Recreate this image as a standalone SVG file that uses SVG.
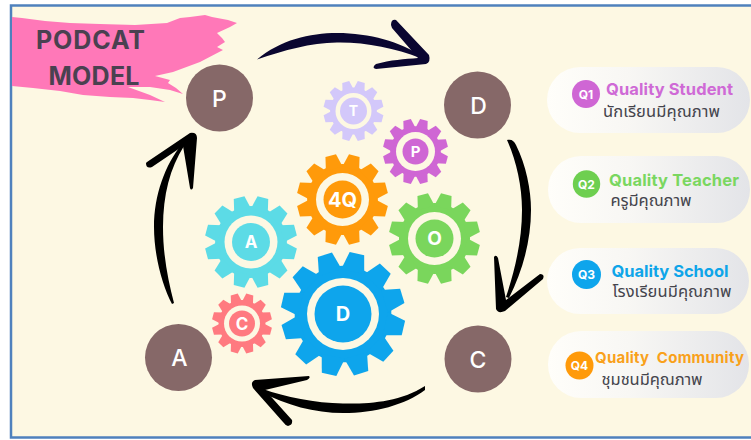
<svg xmlns="http://www.w3.org/2000/svg" width="751" height="440" viewBox="0 0 751 440">
<style>
.lbl{font-family:Inter,"Liberation Sans",sans-serif;text-anchor:middle}
.node circle{fill:#866868}
.node text{font-family:Inter,"Liberation Sans",sans-serif;font-size:23px;font-weight:500;fill:#fff;text-anchor:middle}
.gt{font-family:Inter,"Liberation Sans",sans-serif;font-weight:700;fill:#fff;text-anchor:middle}
.ring{fill:#fdf8e3}
.q{font-family:Inter,"Liberation Sans",sans-serif;font-size:16.500px;font-weight:700}
.th{font-family:"Noto Sans","Noto Sans Thai","DejaVu Sans",sans-serif;font-size:16.500px;fill:#44444c}
.qn{font-family:Inter,"Liberation Sans",sans-serif;font-size:12px;font-weight:700;fill:#fff;text-anchor:middle}
.pill{fill:url(#pg)}
.arr{fill:#000}
</style>
<defs>
<linearGradient id="pg" x1="0" x2="1" y1="0" y2="0"><stop offset="0" stop-color="#fffefa"/><stop offset="0.4" stop-color="#f8f7f4"/><stop offset="1" stop-color="#e3e4e8"/></linearGradient>
<path id="tooth" d="M-19 -70 L-12 -100 L12 -100 L19 -70Z"/>
<g id="gear">
<circle r="78"/>
<use href="#tooth"/><use href="#tooth" transform="rotate(30)"/><use href="#tooth" transform="rotate(60)"/><use href="#tooth" transform="rotate(90)"/><use href="#tooth" transform="rotate(120)"/><use href="#tooth" transform="rotate(150)"/><use href="#tooth" transform="rotate(180)"/><use href="#tooth" transform="rotate(210)"/><use href="#tooth" transform="rotate(240)"/><use href="#tooth" transform="rotate(270)"/><use href="#tooth" transform="rotate(300)"/><use href="#tooth" transform="rotate(330)"/>
</g>
</defs>
<rect width="751" height="440" fill="#fff"/>
<rect x="11" y="5.500" width="745" height="432" fill="#fdf8e3" stroke="#4f81bd" stroke-width="2.500"/>
<path id="brush" fill="#ff78b8" d="M12 17 L22 18 L45 21 L70 23 L100 24 L135 25 L167 23 L180 18 L190 17 L205 15 L212 17 L228 20 L237 23 L230 27 L217 33 L222 38 L225 42 L217 47 L223 50 L200 62 L173 72 L155 76 L170 80 L168 83 L176 88 L183 94 L170 90 L150 87 L128 87 L150 95 L165 102 L150 100 L133 98 L110 97 L83 95 L60 91 L33 88 L12 86Z"/>
<g id="title" class="lbl" font-size="25" font-weight="700" fill="#4a4150">
<text x="90.500" y="49" textLength="109">PODCAT</text>
<text x="94" y="84.500" textLength="91">MODEL</text>
</g>
<g id="connectors">
<g id="arrow-p-d" fill="#0a0630">
<path d="M257 59.500 C280 40 310 33 337 33 C370 33 400 42 422 56 L420 58 C395 48 365 42 337 42.500 C310 43 285 50 257 59.500Z"/>
<path d="M391 25 Q391 19 396 20 L429 55 Q431 62 426 64 L376 69 Q371 68 376 64 C390 60 405 59 418 58 L392 28Z"/>
</g>
<g id="arrow-d-c" class="arr">
<path d="M507 140 C512 139 514 141 516 145 C526 165 531 190 531 210 C531 240 523 270 509 298 L506 297 C515 270 522 240 522 210 C522 185 516 160 507 140Z"/>
<path d="M494 257 Q496 254 498 258 L506 300 L540 274 Q545 274 543 279 L505 311 Q498 314 496 309Z"/>
</g>
<g id="arrow-c-a" class="arr">
<path d="M425 386 C400 402 370 404 343 403.500 C315 403 285 397 263 389 L262 392 C285 405 315 413 343 413 C375 413 405 405 425 390Z"/>
<path d="M309 376 Q311 378 307 380 L265 390 L292 420 Q293 425 288 426 Q285 425 283 422 L253 388 Q250 382 255 380Z"/>
</g>
<g id="arrow-a-p" class="arr">
<path d="M182 144 C165 165 154 195 154 227 C154 255 162 285 172 304 L174 303 C168 280 163 255 163 227 C163 195 170 168 184 146Z"/>
<path d="M147 162 L190 133 Q197 132 197 138 L193 188 Q191 191 190 188 L183 146 L152 167 Q146 169 146 163Z"/>
</g>
</g>
<g id="node-P" class="node"><circle cx="219.500" cy="98" r="33.500"/><text x="219.500" y="106.500">P</text></g>
<g id="node-D" class="node"><circle cx="477.500" cy="105" r="33.500"/><text x="478.500" y="113.500">D</text></g>
<g id="node-A" class="node"><circle cx="178.500" cy="357.500" r="33.500"/><text x="179.500" y="365.500">A</text></g>
<g id="node-C" class="node"><circle cx="478" cy="359" r="33.500"/><text x="478" y="367.500">C</text></g>
<g id="gear-T"><use href="#gear" fill="#d3c8fa" transform="translate(353.500 111) rotate(15) scale(.3)"/><circle class="ring" cx="353.500" cy="111" r="18"/><circle cx="353.500" cy="111" r="13.500" fill="#d3c8fa"/><text class="gt" x="353.500" y="116" font-size="14">T</text></g>
<g id="gear-P"><use href="#gear" fill="#cf66d4" transform="translate(415.500 151.500) rotate(15) scale(.325)"/><circle class="ring" cx="415.500" cy="151.500" r="19.500"/><circle cx="415.500" cy="151.500" r="13" fill="#cf66d4"/><text class="gt" x="415.500" y="157" font-size="15">P</text></g>
<g id="gear-4Q"><use href="#gear" fill="#ff9a0a" transform="translate(342.500 199.500) rotate(15) scale(.455)"/><circle class="ring" cx="342.500" cy="199.500" r="26.500"/><circle cx="342.500" cy="199.500" r="19" fill="#ff9a0a"/><text class="gt" x="342.500" y="207" font-size="20">4Q</text></g>
<g id="gear-A"><use href="#gear" fill="#5cdbe6" transform="translate(251 242) rotate(15) scale(.46)"/><circle class="ring" cx="251" cy="242" r="26.500"/><circle cx="251" cy="242" r="19" fill="#5cdbe6"/><text class="gt" x="251" y="248" font-size="17">A</text></g>
<g id="gear-O"><use href="#gear" fill="#7ad65c" transform="translate(434.500 238.500) rotate(15) scale(.455)"/><circle class="ring" cx="434.500" cy="238.500" r="26.500"/><circle cx="434.500" cy="238.500" r="19" fill="#7ad65c"/><text class="gt" x="434.500" y="245" font-size="19">O</text></g>
<g id="gear-D"><use href="#gear" fill="#0ea5ec" transform="translate(343 314) rotate(13) scale(.62)"/><circle class="ring" cx="343" cy="314" r="36"/><circle cx="343" cy="314" r="28.500" fill="#0ea5ec"/><text class="gt" x="343" y="320.500" font-size="20">D</text></g>
<g id="gear-C"><use href="#gear" fill="#ff7a80" transform="translate(242 323.500) rotate(15) scale(.3)"/><circle class="ring" cx="242" cy="323.500" r="18"/><circle cx="242" cy="323.500" r="13" fill="#ff7a80"/><text class="gt" x="242" y="329.500" font-size="17">C</text></g>
<g id="q1"><rect class="pill" x="547" y="67" width="203" height="66" rx="33"/><circle cx="586" cy="94" r="14" fill="#cf66d4"/><text class="qn" x="586" y="98.500">Q1</text><text class="q" x="606" y="95" textLength="127" fill="#cf6ad6">Quality Student</text><text class="th" x="603" y="117" textLength="117">นักเรียนมีคุณภาพ</text></g>
<g id="q2"><rect class="pill" x="548" y="156" width="202" height="67" rx="33"/><circle cx="586.500" cy="184" r="13.700" fill="#6ecf50"/><text class="qn" x="586.500" y="188.500">Q2</text><text class="q" x="609" y="186" textLength="130" fill="#7ad760">Quality Teacher</text><text class="th" x="610.500" y="206" textLength="81">ครูมีคุณภาพ</text></g>
<g id="q3"><rect class="pill" x="547" y="248" width="202" height="66" rx="33"/><circle cx="586.500" cy="274.500" r="14.500" fill="#0ea5ec"/><text class="qn" x="586.500" y="279">Q3</text><text class="q" x="611.500" y="277" textLength="117" fill="#0ea5e9">Quality School</text><text class="th" x="612.500" y="297" textLength="119">โรงเรียนมีคุณภาพ</text></g>
<g id="q4"><rect class="pill" x="548" y="331" width="201" height="67" rx="33"/><circle cx="579.500" cy="365.500" r="14" fill="#ff9a0a"/><text class="qn" x="579.500" y="370">Q4</text><text class="q" x="595" y="363" style="font-size:15px" textLength="149" xml:space="preserve" fill="#f9a11b">Quality  Community</text><text class="th" x="601.500" y="385" textLength="101">ชุมชนมีคุณภาพ</text></g>
</svg>
